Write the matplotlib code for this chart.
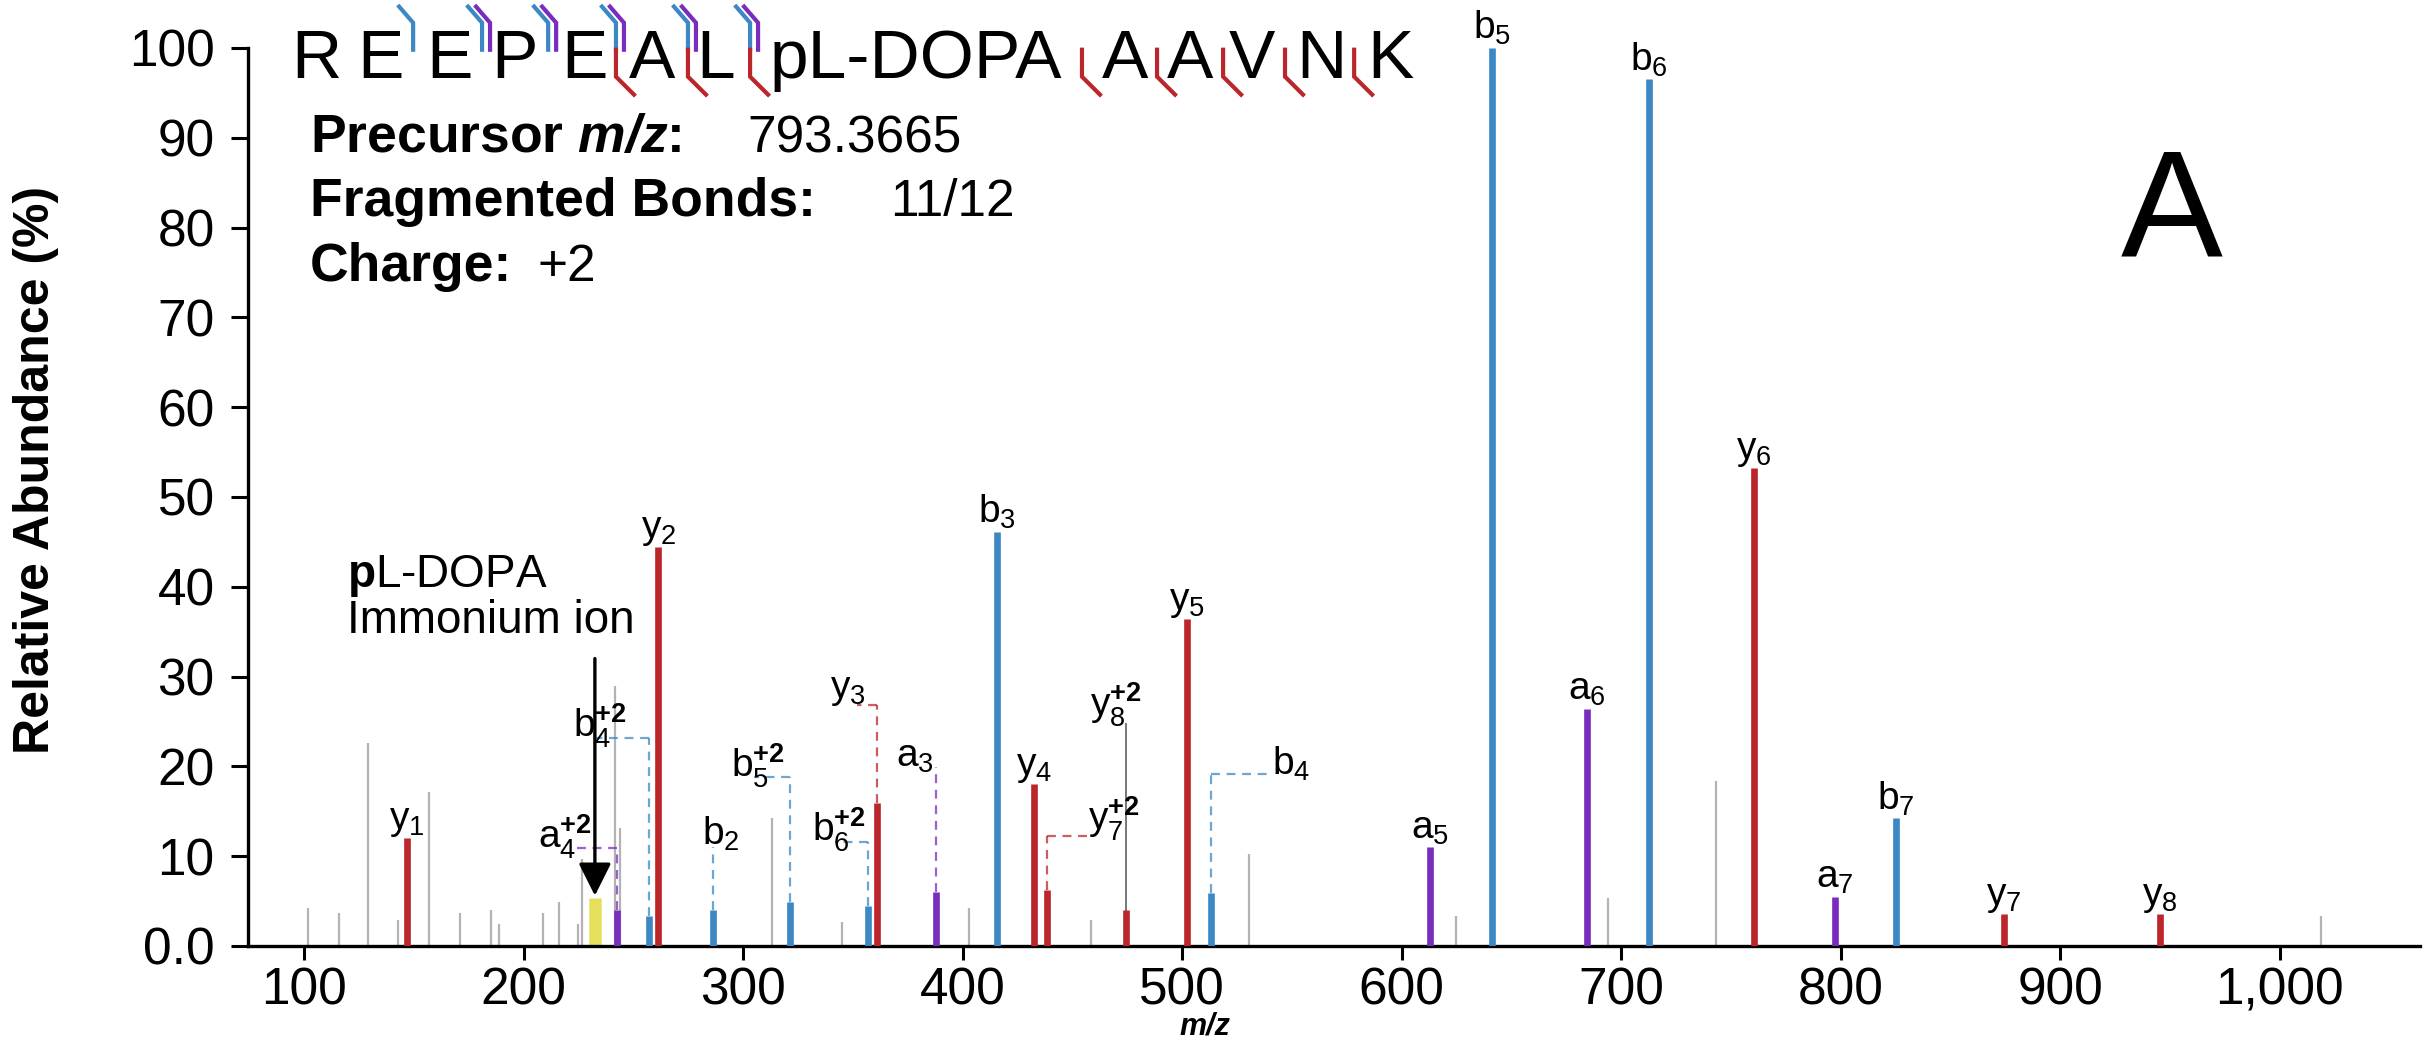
import matplotlib
matplotlib.use('Agg')
import matplotlib.pyplot as plt
from matplotlib import font_manager as fm
from matplotlib.ticker import FuncFormatter, MultipleLocator

plt.rcParams['font.family'] = ['Liberation Sans', 'DejaVu Sans']
plt.rcParams['mathtext.fontset'] = 'custom'
plt.rcParams['mathtext.rm'] = 'Liberation Sans'
plt.rcParams['mathtext.it'] = 'Liberation Sans:italic'
plt.rcParams['mathtext.bf'] = 'Liberation Sans:bold'
plt.rcParams['mathtext.bfit'] = 'Liberation Sans:italic:bold'

# unassigned peaks (grey)
noise_mz = [102, 116, 129, 143, 157, 171, 185, 189, 209, 216, 225, 226.5,
            241.6, 244, 313, 344.9, 403, 458.6, 530.6, 624.6, 694.1, 743.3, 1018.7]
noise_int = [4.2, 3.7, 22.6, 2.9, 17.1, 3.7, 4.0, 2.5, 3.7, 4.9, 2.5, 9.7,
             29.0, 13.1, 14.2, 2.7, 4.2, 2.9, 10.2, 3.3, 5.3, 18.4, 3.3]

# assigned fragment ions
ion_names = ['y1', 'a4+2', 'b4+2', 'y2', 'b2', 'b5+2', 'b6+2', 'y3', 'a3', 'b3',
             'y4', 'y7+2', 'y8+2', 'y5', 'b4', 'a5', 'b5', 'a6', 'b6', 'y6',
             'a7', 'b7', 'y7', 'y8']
ion_mz = [147, 242.7, 257, 261.4, 286.3, 321.4, 357.1, 361, 387.8, 415.7,
          432.4, 438.6, 474.5, 502.4, 513.3, 613.1, 641, 684.3, 712.8, 760.7,
          797.4, 825.2, 874.4, 945.6]
ion_int = [12.0, 4.0, 3.3, 44.4, 4.0, 4.9, 4.4, 15.9, 6.0, 46.1,
           18.0, 6.2, 4.0, 36.4, 5.9, 11.0, 100, 26.4, 96.5, 53.2,
           5.5, 14.2, 3.6, 3.6]

# pL-DOPA immonium ion
imm_mz = 232.5
imm_int = 5.3

# peptide sequence and observed cleavages (gap i = between residue i and i+1)
residues = ['R', 'E', 'E', 'P', 'E', 'A', 'L', 'pL-DOPA', 'A', 'A', 'V', 'N', 'K']
b_sites = [1, 2, 3, 4, 5, 6]
a_sites = [2, 3, 4, 5, 6]
y_sites = [4, 5, 6, 7, 8, 9, 10, 11]

info_keys = ['Precursor $\\mathbfit{m/z}$:', 'Fragmented Bonds:', 'Charge:']
info_vals = ['793.3665', '11/12', '+2']

colors = {'b': '#3b88c4', 'a': '#7a2cbf', 'y': '#bb252c'}
grey = '#b3b3b3'

# label placement for ions linked by dashed connectors:
# name: (connector top, horizontal end, label x, ha, label baseline)
links = {
    'a4+2': (10.9, 221, 231, 'right', 10.9),
    'b4+2': (23.2, 231, 247, 'right', 23.2),
    'b2': (11.0, None, 290, 'center', 11.3),
    'b5+2': (18.8, 305, 319, 'right', 18.8),
    'b6+2': (11.6, 342, 356, 'right', 11.6),
    'y3': (26.8, 352, 356, 'right', 27.6),
    'a3': (19.9, None, 387, 'right', 20.0),
    'y7+2': (12.3, 457, 457, 'left', 12.9),
    'y8+2': (24.7, None, 458, 'left', 25.6),
    'b4': (19.1, 541, 541, 'left', 19.1),
}

res_x = [105.5, 134.6, 166.1, 195.7, 227.6, 258.6, 287.7, 378.7,
         474.0, 503.6, 531.9, 563.3, 594.7]
gap_x = [None, 149.7, 181.1, 211.2, 242.1, 274.9, 303.2, 454.4,
         488.6, 518.7, 546.9, 578.4]


def ion_text(name):
    kind = name[0]
    rest = name[1:]
    if '+' in rest:
        num, chg = rest.split('+')
        return '$\\mathrm{%s}_{%s}^{\\mathbf{+%s}}$' % (kind, num, chg)
    return '$\\mathrm{%s}_{%s}$' % (kind, rest)


fig = plt.figure(figsize=(24.32, 10.44), dpi=100)
ax = fig.add_axes([0.102, 0.0939, 0.8931, 0.8602])
ax.set_xlim(74.5, 1064)
ax.set_ylim(0, 100)

# peaks
ax.vlines(noise_mz, 0, noise_int, colors=grey, lw=1.6, zorder=2)
ax.vlines([imm_mz], 0, [imm_int], colors='#e6df5c', lw=9, zorder=2)
ion_cols = [colors[n[0]] for n in ion_names]
ax.vlines(ion_mz, 0, ion_int, colors=ion_cols, lw=4.8, zorder=3)

# labels and connectors
for name, x, h, c in zip(ion_names, ion_mz, ion_int, ion_cols):
    txt = ion_text(name)
    if name in links:
        top, hend, lx, ha, ly = links[name]
        if name == 'y8+2':
            ax.plot([x, x], [h, top], color='#777777', lw=1.4, zorder=2)
        else:
            ax.plot([x, x], [h, top], color=c, lw=1.6, ls=(0, (4, 3)),
                    alpha=0.75, zorder=2)
        if hend is not None:
            ax.plot([x, hend], [top, top], color=c, lw=1.6, ls=(0, (4, 3)),
                    alpha=0.75, zorder=2)
        ax.text(lx, ly, txt, fontsize=28, ha=ha, va='baseline', zorder=4)
    else:
        ax.text(x, h + 1.0, txt, fontsize=28, ha='center', va='baseline',
                zorder=4, clip_on=False)

# immonium ion arrow and caption
ax.annotate('', xy=(imm_mz, 5.6), xytext=(imm_mz, 32.0),
            arrowprops=dict(arrowstyle='-|>', lw=2.4, color='black',
                            mutation_scale=50, shrinkA=0, shrinkB=0))
ax.text(119.6, 41.2, '$\\mathbf{p}$L-DOPA', fontsize=33, ha='left', va='center')
ax.text(119.6, 36.2, 'Immonium ion', fontsize=33, ha='left', va='center')

# sequence with fragment marks
for r, x in zip(residues, res_x):
    ax.text(x, 96.7, r, fontsize=50, ha='center', va='baseline', clip_on=False)

fig.canvas.draw()
bb = ax.get_window_extent()
px_x = (ax.get_xlim()[1] - ax.get_xlim()[0]) / bb.width

for g in b_sites:
    gx = gap_x[g]
    ax.plot([gx, gx, gx - 14 * px_x], [99.8, 102.8, 104.6], color=colors['b'],
            lw=3, clip_on=False, solid_joinstyle='miter')
for g in a_sites:
    gx = gap_x[g] + 8 * px_x
    ax.plot([gx, gx, gx - 14 * px_x], [99.8, 102.8, 104.6], color=colors['a'],
            lw=3, clip_on=False, solid_joinstyle='miter')
for g in y_sites:
    gx = gap_x[g]
    ax.plot([gx, gx, gx + 18 * px_x], [99.8, 96.8, 94.8], color=colors['y'],
            lw=3, clip_on=False, solid_joinstyle='miter')

# precursor info
info_y = [88.4, 81.3, 74.1]
val_x = [301.8, 367.0, 206.2]
for k, v, yy, vx in zip(info_keys, info_vals, info_y, val_x):
    ax.text(102.7, yy, k, fontsize=38.5, fontweight='bold', ha='left', va='baseline')
    ax.text(vx, yy, v, fontsize=37, ha='left', va='baseline')

ax.text(951, 76.8, 'A', fontsize=110, ha='center', va='baseline')

# axes styling
for s in ['top', 'right']:
    ax.spines[s].set_visible(False)
for s in ['left', 'bottom']:
    ax.spines[s].set_linewidth(2.4)
ax.yaxis.set_major_locator(MultipleLocator(10))
ax.xaxis.set_major_locator(MultipleLocator(100))
ax.yaxis.set_major_formatter(FuncFormatter(lambda v, p: '0.0' if v == 0 else '%d' % v))
ax.xaxis.set_major_formatter(FuncFormatter(lambda v, p: '{:,}'.format(int(v))))
ax.tick_params(axis='y', direction='out', length=12, width=2.2, labelsize=37, pad=12)
ax.tick_params(axis='x', direction='out', length=10, width=2.2, labelsize=37, pad=5)

names = {f.name for f in fm.fontManager.ttflist}
yfam = 'Liberation Sans Narrow' if 'Liberation Sans Narrow' in names else 'Liberation Sans'
ax.set_ylabel('Relative Abundance (%)', fontsize=42 if yfam.endswith('Narrow') else 36,
              fontweight='bold', family=yfam)
ax.yaxis.set_label_coords(-0.087, 0.53)
ax.set_xlabel('m/z', fontsize=22, fontweight='bold', style='italic', va='top')
ax.xaxis.set_label_coords(0.4406, -0.073)

fig.savefig('out.png', dpi=100)
